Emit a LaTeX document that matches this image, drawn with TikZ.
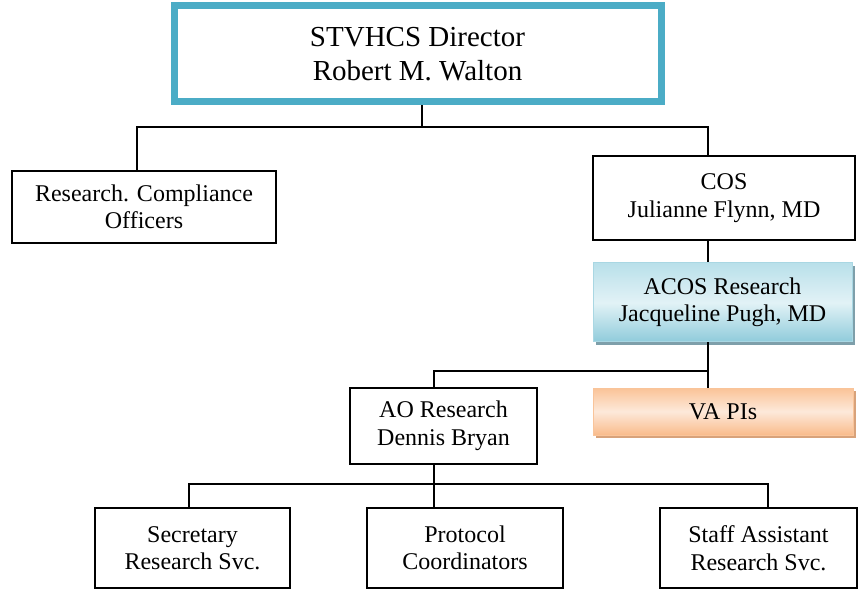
\documentclass[tikz,border=0pt]{standalone}
\usepackage{fontspec}
\setmainfont{Liberation Serif}
\usetikzlibrary{shadows}
\definecolor{dirblue}{HTML}{4BACC6}
\definecolor{acosA}{HTML}{B9E0EA}
\definecolor{acosB}{HTML}{E2F2F6}
\definecolor{acosC}{HTML}{8FCBDB}
\definecolor{acosEdge}{HTML}{A9D7E3}
\definecolor{acosShadow}{HTML}{7E9FAA}
\definecolor{vaA}{HTML}{FAC397}
\definecolor{vaB}{HTML}{FDE9DA}
\definecolor{vaC}{HTML}{F9BB8B}
\definecolor{vaEdge}{HTML}{F9C49A}
\definecolor{vaShadow}{HTML}{D8A27A}
\tikzset{
  x=1pt, y=-1pt,
  txt/.style={font=\fontsize{24}{27.5}\selectfont, align=center, inner sep=0pt},
  plainbox/.style={txt, draw=black, line width=1.5pt, fill=white},
  dirbox/.style={draw=dirblue, line width=7pt, fill=white, align=center, inner sep=0pt,
    font=\fontsize{29}{34}\selectfont},
  acosbox/.style={txt, draw=acosEdge, line width=1pt,
    left color=acosA, right color=acosC, middle color=acosB, shading angle=0,
    drop shadow={shadow xshift=3pt, shadow yshift=-3pt, fill=acosShadow, opacity=1}},
  vabox/.style={txt, draw=vaEdge, line width=1pt,
    top color=vaA, bottom color=vaC, middle color=vaB,
    drop shadow={shadow xshift=3pt, shadow yshift=-3pt, fill=vaShadow, opacity=1}},
  conn/.style={draw=black, line width=1.5pt}
}
\begin{document}
\begin{tikzpicture}
\useasboundingbox (0,0) rectangle (859,593);
\node[dirbox, minimum width=487pt, minimum height=96pt] (dir) at (417.5,54)
  {STVHCS Director\\Robert M. Walton};
\node[plainbox, minimum width=264pt, minimum height=72pt] (rco) at (144,207)
  {Research. Compliance\\Officers};
\node[plainbox, minimum width=262pt, minimum height=84pt] (cos) at (724,198)
  {COS\\Julianne Flynn, MD};
\node[acosbox, minimum width=259pt, minimum height=79pt] (acos) at (722.5,302.5)
  {ACOS Research\\Jacqueline Pugh, MD};
\node[plainbox, minimum width=187pt, minimum height=76pt] (ao) at (443.5,426)
  {AO Research\\Dennis Bryan};
\node[vabox, minimum width=260pt, minimum height=47pt] (va) at (723,411.5)
  {VA PIs};
\node[plainbox, minimum width=195pt, minimum height=80pt] (sec) at (192.5,548)
  {Secretary\\Research Svc.};
\node[plainbox, minimum width=196pt, minimum height=80pt] (prot) at (465,548)
  {Protocol\\Coordinators};
\node[plainbox, minimum width=197pt, minimum height=80pt] (staff) at (758.5,548)
  {Staff Assistant\\Research Svc.};
% bus coordinates
\coordinate (topmid) at (422,127);
\coordinate (topL) at (137,127);
\coordinate (topR) at (708,127);
\coordinate (midL) at (434,371);
\coordinate (midR) at (708,371);
\coordinate (botL) at (189,484);
\coordinate (botM) at (434,484);
\coordinate (botR) at (768,484);
% connectors
\draw[conn] (dir.south -| topmid) -- (topmid);
\draw[conn] (rco.north -| topL) -- (topL) -- (topR) -- (cos.north -| topR);
\draw[conn] (cos.south -| topR) -- (acos.north -| topR);
\draw[conn] (acos.south -| midR) -- (va.north -| midR);
\draw[conn] (midR) -- (midL) -- (ao.north -| midL);
\draw[conn] (ao.south -| botM) -- (prot.north -| botM);
\draw[conn] (sec.north -| botL) -- (botL) -- (botR) -- (staff.north -| botR);
\end{tikzpicture}
\end{document}
